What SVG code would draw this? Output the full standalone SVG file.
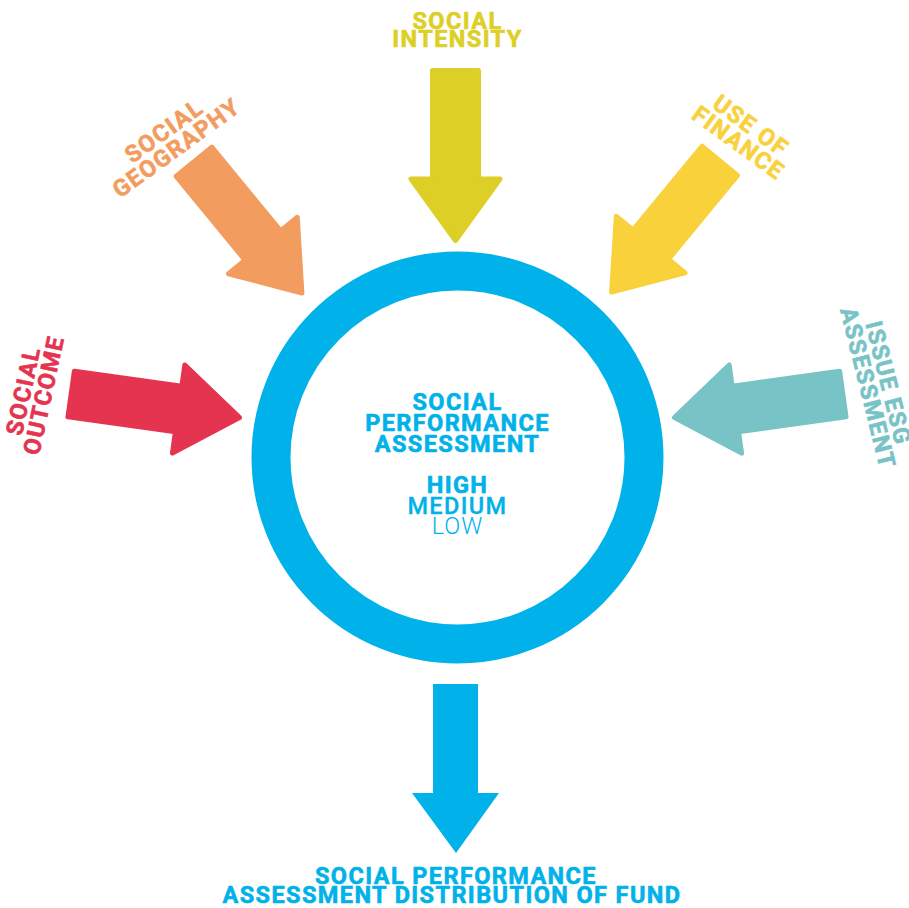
<svg xmlns="http://www.w3.org/2000/svg" width="909" height="908" viewBox="0 0 909 908">
<style>
.lbl{font-family:Roboto,"Liberation Sans",sans-serif;font-weight:700;font-size:23.5px;letter-spacing:1.4px;text-anchor:middle;stroke-width:0.6px;stroke-linejoin:round}
.arr{stroke-linejoin:round;stroke-width:5}
</style>
<defs>
<path id="arrowIn" d="M-23,-172.5 L23,-172.5 L23,-64 L44.5,-64 L0,-2.5 L-44.5,-64 L-23,-64 Z"/>
</defs>
<rect width="909" height="908" fill="#ffffff"/>
<g id="connectors">
<use id="arrow-intensity" href="#arrowIn" class="arr" fill="#DDCF25" stroke="#DDCF25" transform="translate(455.5,243)"/>
<use id="arrow-geography" href="#arrowIn" class="arr" fill="#F39C5F" stroke="#F39C5F" transform="translate(303.5,295) rotate(-39.4)"/>
<use id="arrow-finance" href="#arrowIn" class="arr" fill="#F9D13B" stroke="#F9D13B" transform="translate(610,294) rotate(39.5)"/>
<use id="arrow-outcome" href="#arrowIn" class="arr" fill="#E5344F" stroke="#E5344F" transform="translate(242,418) rotate(-82)"/>
<use id="arrow-esg" href="#arrowIn" class="arr" fill="#77C3C6" stroke="#77C3C6" transform="translate(672,418) rotate(82)"/>
<path id="arrow-out" d="M433,684 L478,684 L478,793 L499,793 L456,853 L412,793 L433,793 Z" fill="#00B2E9"/>
</g>
<g id="center">
<circle cx="457.5" cy="457.5" r="186.5" fill="none" stroke="#00B2E9" stroke-width="39"/>
<g fill="#00B2E9" stroke="#00B2E9">
<text x="457.5" y="410" class="lbl">SOCIAL</text>
<text x="457.5" y="431" class="lbl">PERFORMANCE</text>
<text x="457.5" y="452" class="lbl">ASSESSMENT</text>
<text x="457.5" y="493" class="lbl">HIGH</text>
<text x="457.5" y="514" class="lbl" style="font-weight:500;stroke-width:0.3px">MEDIUM</text>
<text x="457.5" y="534" class="lbl" style="font-weight:300;stroke-width:0;letter-spacing:1px">LOW</text>
</g>
</g>
<g id="label-intensity" fill="#DDCF25" stroke="#DDCF25">
<text x="457.5" y="28.5" class="lbl">SOCIAL</text>
<text x="457.5" y="47" class="lbl">INTENSITY</text>
</g>
<g id="label-geography" fill="#F39C5F" stroke="#F39C5F" transform="translate(168.7,137.5) rotate(-36)">
<text x="0" y="0" class="lbl">SOCIAL</text>
<text x="0" y="21" class="lbl">GEOGRAPHY</text>
</g>
<g id="label-finance" fill="#F9D13B" stroke="#F9D13B" transform="translate(746.1,132.3) rotate(36)">
<text x="0" y="0" class="lbl">USE OF</text>
<text x="0" y="21" class="lbl">FINANCE</text>
</g>
<g id="label-outcome" fill="#E5344F" stroke="#E5344F" transform="translate(31.1,392.5) rotate(-78)">
<text x="0" y="0" class="lbl">SOCIAL</text>
<text x="0" y="21" class="lbl">OUTCOME</text>
</g>
<g id="label-esg" fill="#77C3C6" stroke="#77C3C6" transform="translate(880.5,384.9) rotate(76)">
<text x="0" y="0" class="lbl">ISSUE ESG</text>
<text x="0" y="21" class="lbl">ASSESSMENT</text>
</g>
<g id="label-output" fill="#00B2E9" stroke="#00B2E9">
<text x="456" y="884" class="lbl">SOCIAL PERFORMANCE</text>
<text x="452" y="903" class="lbl">ASSESSMENT DISTRIBUTION OF FUND</text>
</g>
</svg>
